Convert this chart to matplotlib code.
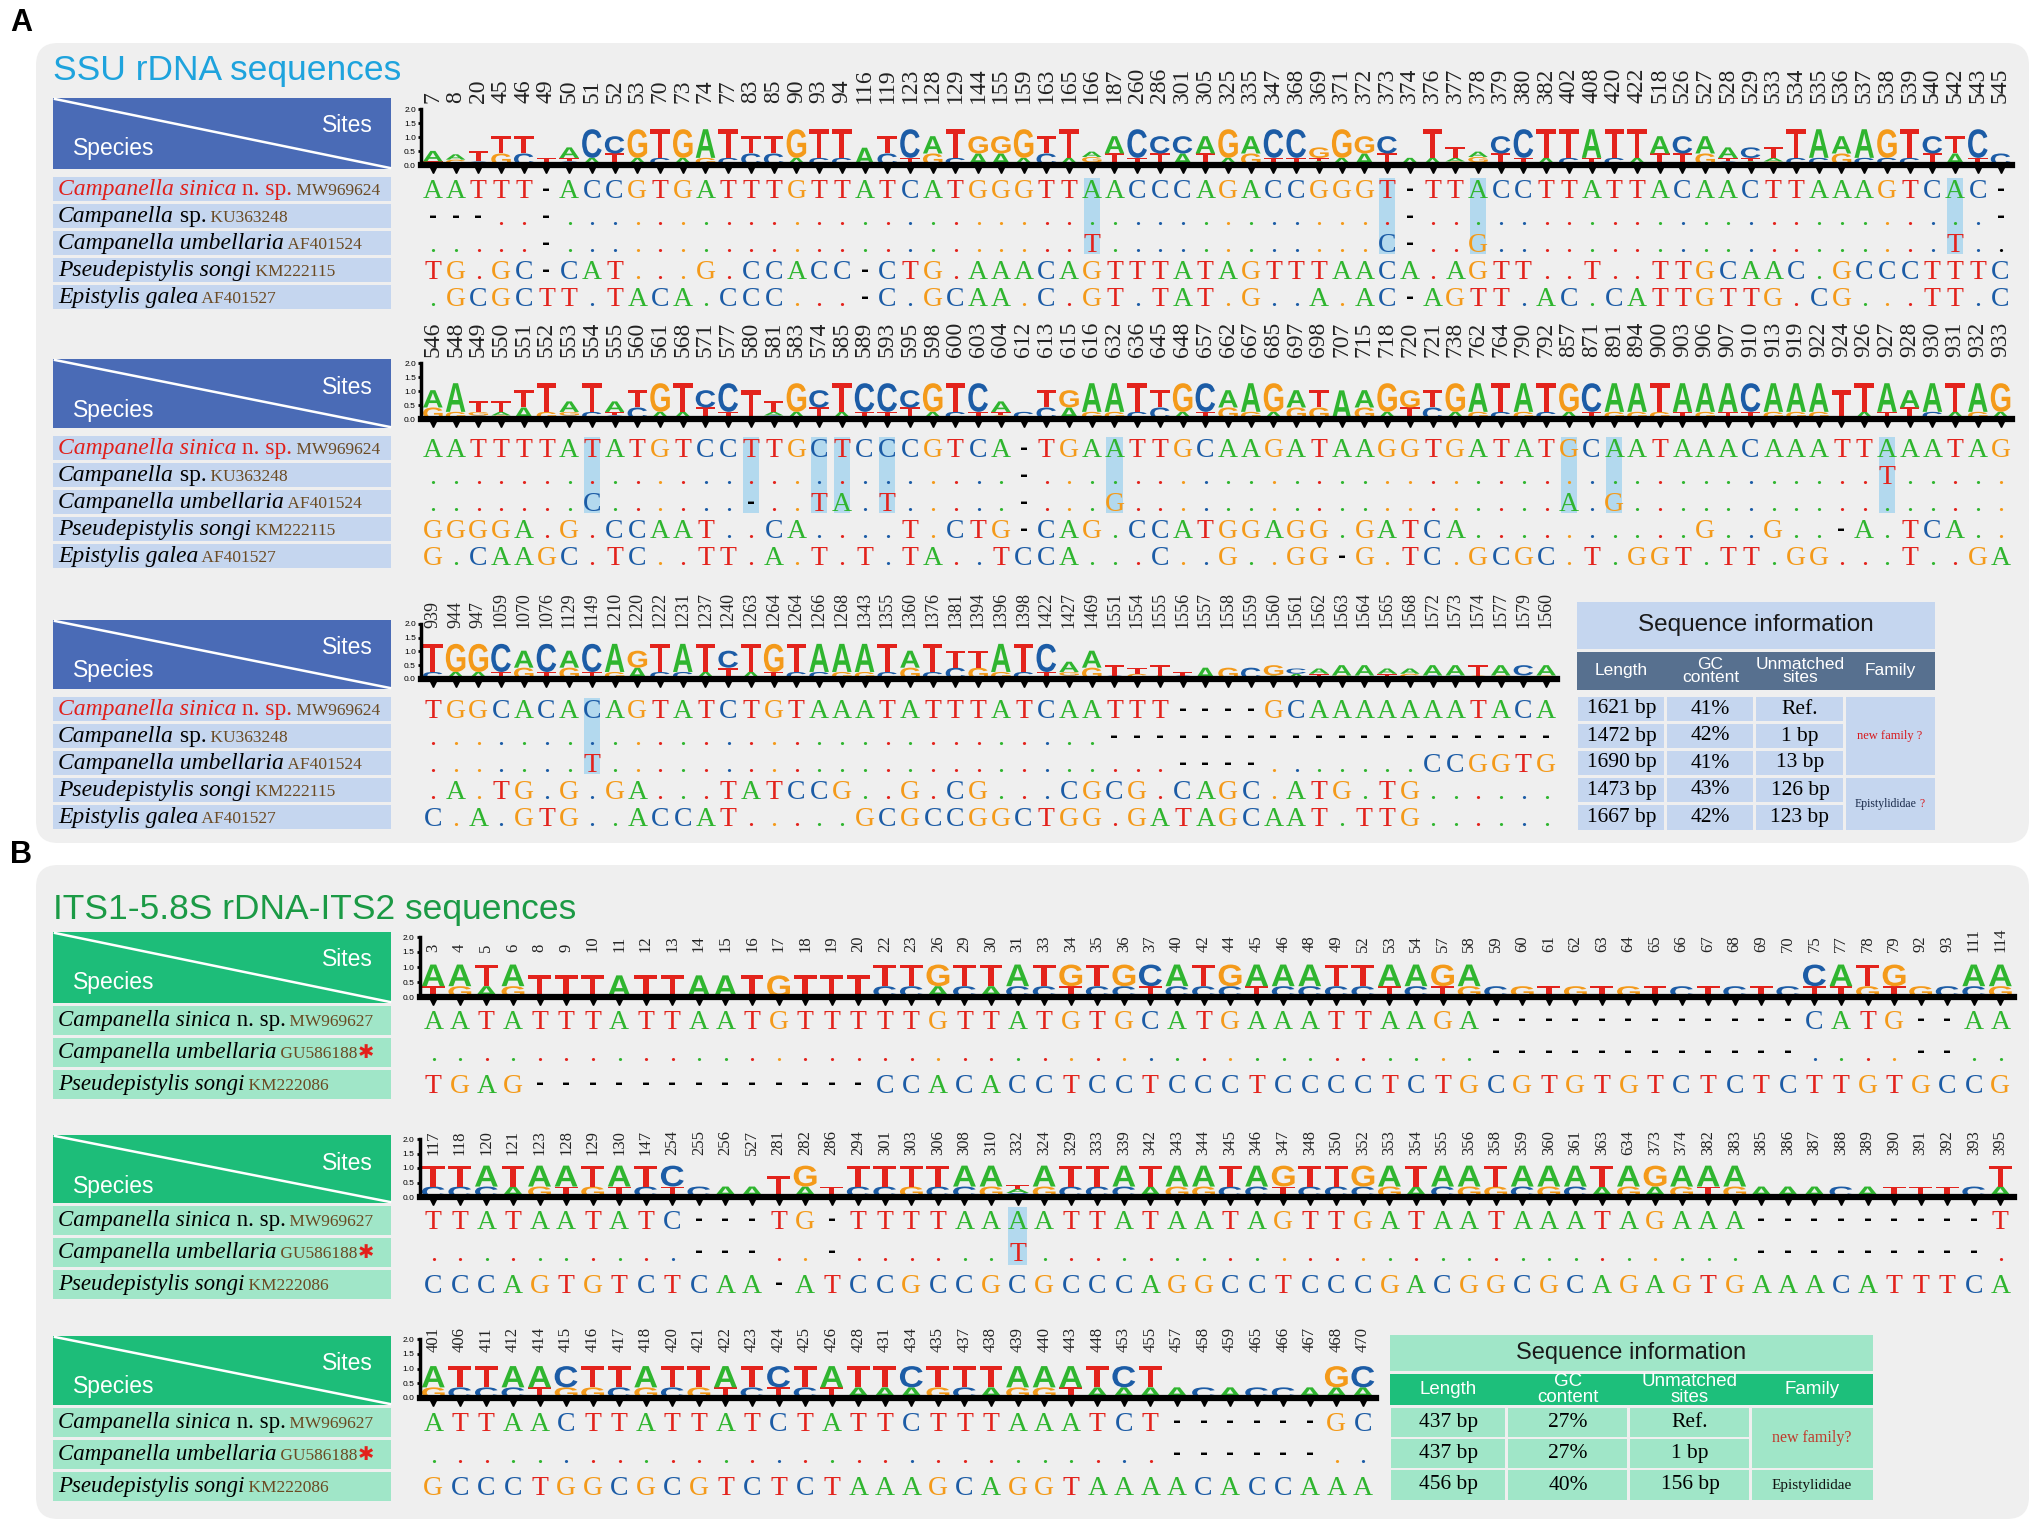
import matplotlib
matplotlib.use("Agg")
import matplotlib.pyplot as plt
import matplotlib.transforms as mtransforms
import numpy as np
from matplotlib.font_manager import FontProperties
from matplotlib.patches import FancyBboxPatch, PathPatch, Rectangle
from matplotlib.textpath import TextPath

W, H = 2033, 1525
SANS = "Liberation Sans"
SERIF = "Liberation Serif"

BASE_COLORS = {"A": "#2fb52f", "C": "#1c5ca6", "G": "#f49a1a", "T": "#e3231c"}

# ---------------- SSU rDNA (panel A) ----------------
ssu_species = [
    [("Campanella sinica", "it", "#e0201b"), (" n. sp.", "rm", "#e0201b"), (" MW969624", "acc", None)],
    [("Campanella", "it", "k"), (" sp.", "rm", "k"), (" KU363248", "acc", None)],
    [("Campanella umbellaria", "it", "k"), (" AF401524", "acc", None)],
    [("Pseudepistylis songi", "it", "k"), (" KM222115", "acc", None)],
    [("Epistylis galea", "it", "k"), (" AF401527", "acc", None)],
]

ssu_sites_1 = [7, 8, 20, 45, 46, 49, 50, 51, 52, 53, 70, 73, 74, 77, 83, 85, 90, 93, 94, 116,
               119, 123, 128, 129, 144, 155, 159, 163, 165, 166, 187, 260, 286, 301, 305, 325, 335, 347, 368, 369,
               371, 372, 373, 374, 376, 377, 378, 379, 380, 382, 402, 408, 420, 422, 518, 526, 527, 528, 529, 533,
               534, 535, 536, 537, 538, 539, 540, 542, 543, 545]
ssu_seqs_1 = [
    "AATTT-ACCGTGATTTGTTATCATGGGTTAACCCAGACCGGGT-TTACCTTATTACAACTTAAAGTCAC-",
    "---..-" ".........." ".........." ".........." "......." "-" ".........." ".........." "....." "-",
    "....." "-" ".........." ".........." "..." "T" ".........." ".." "C" "-" ".." "G" ".........." ".........." "T" "..",
    "TG.GC-CAT...G.CCACC-CTG.AAACAGTTTATAGTTTAACA.AGTT..T..TTGCAAC.GCCCTTTC",
    ".GCGCTT.TACA.CCC...-C.GCAA.C.GT.TAT.G..A.AC-AGTT.AC.CATTGTTG.CG...TT.C",
]
ssu_marked_1 = [29, 42, 46, 67]

ssu_sites_2 = [546, 548, 549, 550, 551, 552, 553, 554, 555, 560, 561, 568, 571, 577, 580, 581, 583, 574, 585, 589,
               593, 595, 598, 600, 603, 604, 612, 613, 615, 616, 632, 636, 645, 648, 657, 662, 667, 685, 697, 698,
               707, 715, 718, 720, 721, 738, 762, 764, 790, 792, 857, 871, 891, 894, 900, 903, 906, 907, 910, 913,
               919, 922, 924, 926, 927, 928, 930, 931, 932, 933]
ssu_seqs_2 = [
    "AATTTTATATGTCCTTGCTCCCGTCA-TGAATTGCAAGATAAGGTGATATGCAATAAACAAATTAAATAG",
    ".........." ".........." "......" "-" ".........." ".........." ".........." "......." "T" ".....",
    "......." "C" "......" "-" ".." "T" "A" "." "T" "....." "-" "..." "G" ".........." "........." "A" "." "G" ".........." ".......",
    "GGGGA.G.CCAAT..CA....T.CTG-CAG.CCATGGAGG.GATCA..........G..G..-A.TCA..",
    "G.CAAGC.TC..TT.A.T.T.TA..TCCA...C..G..GG-G.TC.GCGC.T.GGT.TT.GG...T..GA",
]
ssu_marked_2 = [7, 14, 17, 18, 20, 30, 50, 52, 64]

ssu_sites_3 = [939, 944, 947, 1059, 1070, 1076, 1129, 1149, 1210, 1220, 1222, 1231, 1237, 1240, 1263, 1264, 1264,
               1266, 1268, 1343, 1355, 1360, 1376, 1381, 1394, 1396, 1398, 1422, 1427, 1469, 1551, 1554, 1555, 1556,
               1557, 1558, 1559, 1560, 1561, 1562, 1563, 1564, 1565, 1568, 1572, 1573, 1574, 1577, 1579, 1560]
ssu_seqs_3 = [
    "TGGCACACAGTATCTGTAAATATTTATCAATTT----GCAAAAAAATACA",
    ".........." ".........." ".........." "--------------------",
    "......." "T" ".........." ".........." "....." "----" "......." "CCGGTG",
    ".A.TG.G.GA...TATCCG..G.CG...CGCG.CAGC.ATG.TG......",
    "C.A.GTG..ACCAT.....GCGCCGGCTGG.GATAGCAAT.TTG......",
]
ssu_marked_3 = [7]

ssu_length = ["1621 bp", "1472 bp", "1690 bp", "1473 bp", "1667 bp"]
ssu_gc = ["41%", "42%", "41%", "43%", "42%"]
ssu_unmatched = ["Ref.", "1 bp", "13 bp", "126 bp", "123 bp"]

# ---------------- ITS1-5.8S-ITS2 (panel B) ----------------
its_species = [
    [("Campanella sinica", "it", "k"), (" n. sp.", "rm", "k"), (" MW969627", "acc", None)],
    [("Campanella umbellaria", "it", "k"), (" GU586188", "acc", None), ("\u2731", "star", "#e3201b")],
    [("Pseudepistylis songi", "it", "k"), (" KM222086", "acc", None)],
]

its_sites_1 = [3, 4, 5, 6, 8, 9, 10, 11, 12, 13, 14, 15, 16, 17, 18, 19, 20, 22, 23, 26,
               29, 30, 31, 33, 34, 35, 36, 37, 40, 42, 44, 45, 46, 48, 49, 52, 53, 54, 57, 58,
               59, 60, 61, 62, 63, 64, 65, 66, 67, 68, 69, 70, 75, 77, 78, 79, 92, 93, 111, 114]
its_seqs_1 = [
    "AATATTTATTAATGTTTTTGTTATGTGCATGAAATTAAGA------------CATG--AA",
    ".........." ".........." ".........." ".........." "------------" "...." "--" "..",
    "TGAG-------------CCACACCTCCTCCCTCCCCTCTGCGTGTGTCTCTCTTGTGCCG",
]

its_sites_2 = [117, 118, 120, 121, 123, 128, 129, 130, 147, 254, 255, 256, 527, 281, 282, 286, 294, 301, 303, 306,
               308, 310, 332, 324, 329, 333, 339, 342, 343, 344, 345, 346, 347, 348, 350, 352, 353, 354, 355, 356,
               358, 359, 360, 361, 363, 634, 373, 374, 382, 383, 385, 386, 387, 388, 389, 390, 391, 392, 393, 395]
its_seqs_2 = [
    "TTATAATATC---TG-TTTTAAAATTATAATAGTTGATAATAAATAGAAA---------T",
    ".........." "---" ".." "-" "......" "T" ".........." ".........." "......." "---------" ".",
    "CCCAGTGTCTCAA-ATCCGCCGCGCCCAGGCCTCCCGACGGCGCAGAGTGAAACATTTCA",
]
its_marked_2 = [22]

its_sites_3 = [401, 406, 411, 412, 414, 415, 416, 417, 418, 420, 421, 422, 423, 424, 425, 426, 428, 431, 434, 435,
               437, 438, 439, 440, 443, 448, 453, 455, 457, 458, 459, 465, 466, 467, 468, 470]
its_seqs_3 = [
    "ATTAACTTATTATCTATTCTTTAAATCT------GC",
    ".........." ".........." "........" "------" "..",
    "GCCCTGGCGCGTCTCTAAAGCAGGTAAAACACCAAA",
]

its_length = ["437 bp", "437 bp", "456 bp"]
its_gc = ["27%", "27%", "40%"]
its_unmatched = ["Ref.", "1 bp", "156 bp"]

HEADER_LABELS = ["Length", "GC\ncontent", "Unmatched\nsites", "Family"]

# ---------------- figure ----------------
fig = plt.figure(figsize=(W / 100, H / 100), dpi=100)
bg = fig.add_axes([0, 0, 1, 1])
bg.set_xlim(0, W)
bg.set_ylim(H, 0)
bg.axis("off")
renderer = fig.canvas.get_renderer()


def px_axes(x0, y0, x1, y1):
    return fig.add_axes([x0 / W, 1 - y1 / H, (x1 - x0) / W, (y1 - y0) / H])


LOGO_FP = FontProperties(family=SANS, weight="bold")
GLYPHS = {b: TextPath((0, 0), b, size=1, prop=LOGO_FP) for b in "ACGT"}


def draw_letter(ax, b, x, y0, h, w=0.86):
    p = GLYPHS[b]
    ext = p.get_extents()
    tr = (mtransforms.Affine2D().translate(-ext.x0, -ext.y0)
          .scale(w / ext.width, h / ext.height).translate(x - w / 2, y0))
    ax.add_patch(PathPatch(tr.transform_path(p), fc=BASE_COLORS[b], ec="none"))


def draw_alignment(sites, seqs, marked, n_marked, left, pitch, logo_top, logo_bot, rows,
                   num_fs, num_pad, seq_fs=20):
    n = len(sites)
    seqs = [s.ljust(n, ".")[:n] for s in seqs]
    right = left + n * pitch
    ref = seqs[0]

    # sequence logo
    ax = px_axes(left, logo_top, right, logo_bot)
    ax.patch.set_alpha(0)
    ax.set_xlim(-0.5, n - 0.5)
    ax.set_ylim(0, 2)
    for j in range(n):
        col = [ref[j] if s[j] == "." else s[j] for s in seqs]
        p = {c: col.count(c) / len(col) for c in set(col)}
        ic = max(0.0, 2 + sum(v * np.log2(v) for v in p.values()))
        y = 0.0
        for b in sorted([b for b in p if b in "ACGT"], key=lambda b: p[b]):
            hh = p[b] * ic
            draw_letter(ax, b, j, y, hh)
            y += hh
    for side in ("top", "right"):
        ax.spines[side].set_visible(False)
    ax.spines["left"].set_linewidth(2.5)
    ax.spines["bottom"].set_linewidth(4.5)
    ax.set_yticks([0, 0.5, 1, 1.5, 2])
    ax.set_yticklabels(["0.0", "0.5", "1.0", "1.5", "2.0"], fontsize=6, family=SANS)
    ax.tick_params(axis="y", length=2.5, width=2, pad=1.5)
    ax.set_xticks(range(n))
    ax.set_xticklabels([str(s) for s in sites], rotation=90, fontsize=num_fs, family=SERIF, color="#222222")
    ax.tick_params(axis="x", bottom=False, top=False, labelbottom=False, labeltop=True, pad=num_pad)
    ax.plot(range(n), [-0.17] * n, "v", color="k", ms=4.5, clip_on=False)

    # aligned sequences
    rp = rows[1] - rows[0]
    sax = px_axes(left, rows[0] - rp / 2, right, rows[-1] + rp / 2)
    sax.set_xlim(-0.5, n - 0.5)
    sax.set_ylim(len(seqs) - 0.5, -0.5)
    sax.axis("off")
    for j in marked:
        sax.add_patch(Rectangle((j - 0.36, -0.42), 0.72, n_marked - 1 + 0.84,
                                fc="#b3d9ee", ec="none", zorder=0))
    off = 9.0 / rp
    for i, s in enumerate(seqs):
        for j, ch in enumerate(s):
            if ch == "-":
                sax.text(j, i + off - 0.12, "-", ha="center", va="baseline", color="k",
                         fontsize=14, family="DejaVu Sans", fontweight="bold")
            elif ch == ".":
                sax.text(j, i + off, ".", ha="center", va="baseline",
                         color=BASE_COLORS.get(ref[j], "k"), fontsize=seq_fs, family=SERIF)
            else:
                sax.text(j, i + off, ch, ha="center", va="baseline",
                         color=BASE_COLORS[ch], fontsize=seq_fs, family=SERIF)


def text_style(kind, color, fs):
    if kind == "it":
        return dict(family=SERIF, style="italic", fontsize=fs, color=color)
    if kind == "rm":
        return dict(family=SERIF, fontsize=fs, color=color)
    if kind == "acc":
        return dict(family=SERIF, fontsize=12.5, color="#6b4a22")
    return dict(family="DejaVu Sans", fontsize=14, color=color, fontweight="bold")


def rich(x, y, parts, fs):
    for s, kind, color in parts:
        t = bg.text(x, y, s, ha="left", va="baseline", **text_style(kind, color, fs))
        x += t.get_window_extent(renderer).width


def rich_center(xc, yc, parts):
    texts = [bg.text(0, yc, s, ha="left", va="center", **kw) for s, kw in parts]
    widths = [t.get_window_extent(renderer).width for t in texts]
    x = xc - sum(widths) / 2
    for t, w in zip(texts, widths):
        t.set_x(x)
        x += w


def draw_header(y0, y1, color):
    bg.add_patch(Rectangle((53, y0), 338, y1 - y0, fc=color, ec="none"))
    bg.plot([55, 390], [y0 + 1, y1 - 1], color="white", lw=1.8)
    bg.text(373, y0 + 28, "Sites", ha="right", va="center", color="white", fontsize=16.5, family=SANS)
    bg.text(73, y0 + 51, "Species", ha="left", va="center", color="white", fontsize=16.5, family=SANS)


def draw_species(species, rows, box_h, color, fs):
    for parts, yc in zip(species, rows):
        bg.add_patch(Rectangle((53, yc - box_h / 2), 338, box_h, fc=color, ec="none"))
        rich(58, yc + 6, parts, fs)


def draw_table(xe, title_y, head_y, rows_y, light, dark, fs_title, fs_head, fs_data, columns, fam):
    x0, x1 = xe[0], xe[-1]
    g = 1.5
    bg.add_patch(Rectangle((x0, title_y[0]), x1 - x0, title_y[1] - title_y[0], fc=light, ec="none"))
    bg.text((x0 + x1) / 2, sum(title_y) / 2, "Sequence information", ha="center", va="center",
            fontsize=fs_title, family=SANS, color="#1a1a1a")
    bg.add_patch(Rectangle((x0, head_y[0]), x1 - x0, head_y[1] - head_y[0], fc=dark, ec="none"))
    for k, lab in enumerate(HEADER_LABELS):
        bg.text((xe[k] + xe[k + 1]) / 2, sum(head_y) / 2, lab, ha="center", va="center",
                color="white", fontsize=fs_head, family=SANS, linespacing=0.85)
    for r, (ya, yb) in enumerate(rows_y):
        for k in range(3):
            bg.add_patch(Rectangle((xe[k] + g, ya), xe[k + 1] - xe[k] - 2 * g, yb - ya, fc=light, ec="none"))
            bg.text((xe[k] + xe[k + 1]) / 2, (ya + yb) / 2, columns[k][r], ha="center", va="center",
                    fontsize=fs_data, family=SERIF, color="k")
    for ra, rb, parts in fam:
        ya, yb = rows_y[ra][0], rows_y[rb][1]
        bg.add_patch(Rectangle((xe[3] + g, ya), xe[4] - xe[3] - g, yb - ya, fc=light, ec="none"))
        rich_center((xe[3] + xe[4]) / 2, (ya + yb) / 2, parts)


# panel backgrounds and titles
for y0, y1 in [(43, 843), (865, 1519)]:
    bg.add_patch(FancyBboxPatch((36, y0), 1993, y1 - y0, boxstyle="round,pad=0,rounding_size=22",
                                fc="#efefef", ec="none"))
bg.text(10, 23, "A", ha="left", va="center", fontsize=22, fontweight="bold", family=SANS)
bg.text(10, 855, "B", ha="left", va="center", fontsize=22, fontweight="bold", family=SANS)
bg.text(53, 80, "SSU rDNA sequences", ha="left", va="baseline", fontsize=25.5, family=SANS, color="#1ea3dd")
bg.text(53, 919, "ITS1-5.8S rDNA-ITS2 sequences", ha="left", va="baseline", fontsize=25.5,
        family=SANS, color="#1b9a45")

# panel A blocks
A_BLUE, A_LIGHT = "#4a6bb6", "#c5d6ef"
a_blocks = [
    (ssu_sites_1, ssu_seqs_1, ssu_marked_1, 98, 169, 109, 165, [189, 216, 243, 270, 297], 17, 0.5),
    (ssu_sites_2, ssu_seqs_2, ssu_marked_2, 359, 428, 363, 419, [448, 475, 502, 529, 556], 17, 0.5),
    (ssu_sites_3, ssu_seqs_3, ssu_marked_3, 620, 689, 624, 679, [709, 736, 763, 790, 817], 13, -6.5),
]
for sites, seqs, marked, h0, h1, lt, lb, rows, nfs, npad in a_blocks:
    draw_header(h0, h1, A_BLUE)
    draw_species(ssu_species, rows, 24, A_LIGHT, 17)
    draw_alignment(sites, seqs, marked, 3, 421.5, 22.72, lt, lb, rows, nfs, npad)

draw_table([1577, 1666, 1755, 1845, 1935], (602, 649), (652, 690),
           [(697, 721), (724, 748), (751, 775), (778, 802), (805, 830)],
           A_LIGHT, "#57708f", 17.5, 12.5, 15.5, [ssu_length, ssu_gc, ssu_unmatched],
           [(0, 2, [("new family ?", dict(family=SERIF, fontsize=9, color="#d7191c"))]),
            (3, 4, [("Epistylididae", dict(family=SERIF, fontsize=8.5, color="#1a2a4a")),
                    (" ?", dict(family=SERIF, fontsize=8.5, color="#d7191c"))])])

# panel B blocks
B_GREEN, B_LIGHT = "#1dbd79", "#a0e6c8"
b_blocks = [
    (its_sites_1, its_seqs_1, [], 932, 1003, 937, 997, [1020, 1052, 1084], -14),
    (its_sites_2, its_seqs_2, its_marked_2, 1135, 1203, 1139, 1197, [1220, 1252, 1284], -15),
    (its_sites_3, its_seqs_3, [], 1336, 1405, 1339, 1398, [1422, 1454, 1486], -13),
]
for sites, seqs, marked, h0, h1, lt, lb, rows, npad in b_blocks:
    draw_header(h0, h1, B_GREEN)
    draw_species(its_species, rows, 29, B_LIGHT, 16.5)
    draw_alignment(sites, seqs, marked, 2, 420, 26.56, lt, lb, rows, 12, npad)

draw_table([1390, 1507, 1629, 1751, 1873], (1335, 1371), (1374, 1405),
           [(1408, 1437), (1439, 1468), (1470, 1500)],
           B_LIGHT, "#1dbf7b", 17, 13.5, 15.5, [its_length, its_gc, its_unmatched],
           [(0, 1, [("new family?", dict(family=SERIF, fontsize=11.5, color="#c0392b"))]),
            (2, 2, [("Epistylididae", dict(family=SERIF, fontsize=11, color="#111111"))])])

fig.savefig("out.png", dpi=100)
